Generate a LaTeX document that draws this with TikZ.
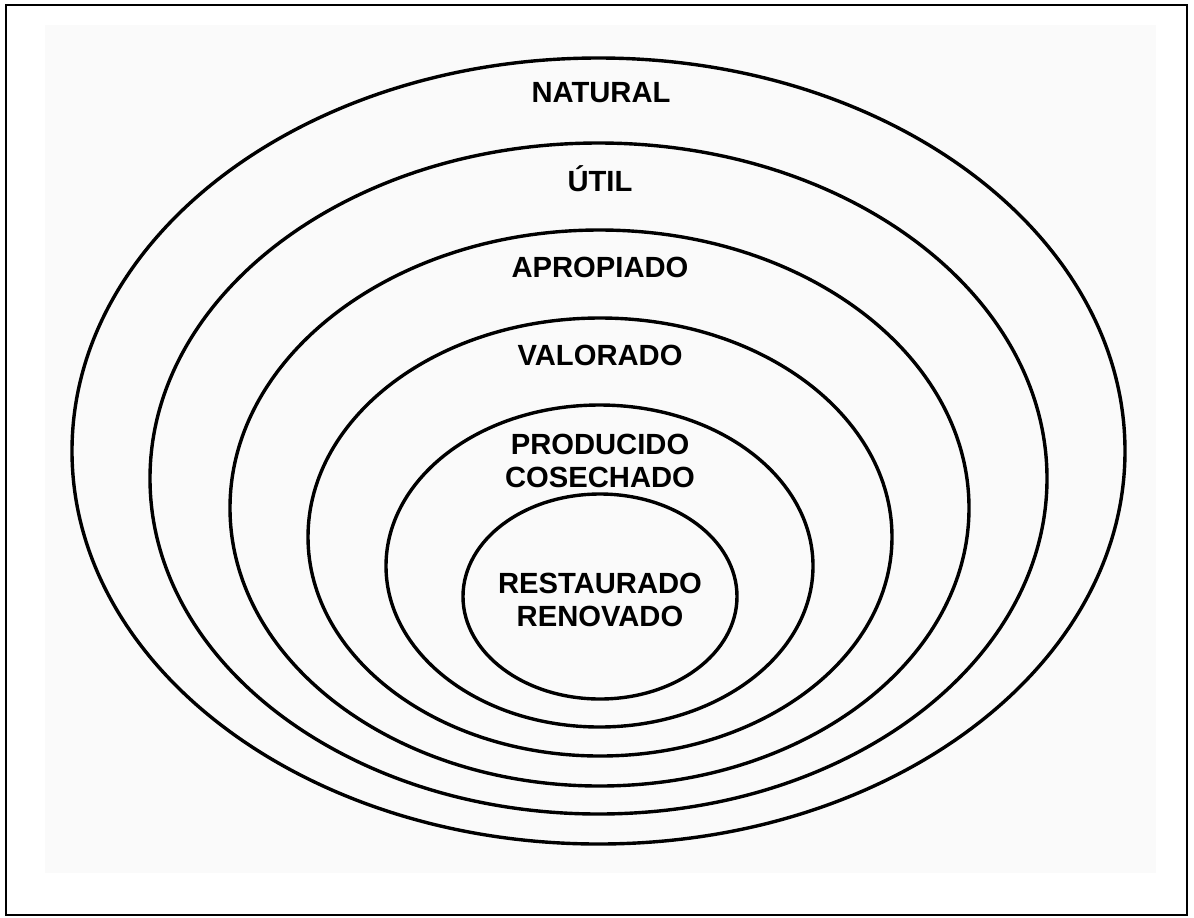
\documentclass[tikz,border=0pt]{standalone}
\usepackage{fontspec}
\setmainfont{Liberation Sans}
\usepackage{tikz}
\usetikzlibrary{shapes.geometric, positioning}
\tikzstyle{ring} = [ellipse, draw=black, line width=1.7pt, inner sep=0pt]
\tikzstyle{tag} = [align=center, font=\fontsize{14.6}{16.5}\selectfont\bfseries, inner sep=0pt]

\begin{document}
\begin{tikzpicture}[x=0.5pt, y=-0.5pt]
		\useasboundingbox (0,0) rectangle (1194,917);
		% page and faint print behind
		\node (Page) [draw=black, line width=1pt, minimum width=590.5pt, minimum height=455pt, inner sep=0pt] at (596.5,460) {};
		\fill[black!2] (45,25) rectangle (1156,873);
		
		% rings, outside in
		\node (Natural) [ring, minimum width=526.5pt, minimum height=393pt] at (598.5,451) {};
		\node (Util) [ring, minimum width=448.5pt, minimum height=335.5pt] at (598.5,478.5) {};
		\node (Apropiado) [ring, minimum width=369.5pt, minimum height=278pt] at (599.5,508) {};
		\node (Valorado) [ring, minimum width=292pt, minimum height=219pt] at (600,537) {};
		\node (Producido) [ring, minimum width=213.5pt, minimum height=161pt] at (599.5,566) {};
		\node (Restaurado) [ring, minimum width=137pt, minimum height=102.5pt] at (600,596.5) {};
		
		% labels
		\node (NaturalText) [tag] at (601,93) {NATURAL};
		\node (UtilText) [tag, anchor=base] at (600,191) {ÚTIL};
		\node (ApropiadoText) [tag] at (600,267) {APROPIADO};
		\node (ValoradoText) [tag] at (600,355) {VALORADO};
		\node (ProducidoText) [tag] at (600,461) {PRODUCIDO\\COSECHADO};
		\node (RestauradoText) [tag] at (600,600) {RESTAURADO\\RENOVADO};
\end{tikzpicture}
\end{document}
